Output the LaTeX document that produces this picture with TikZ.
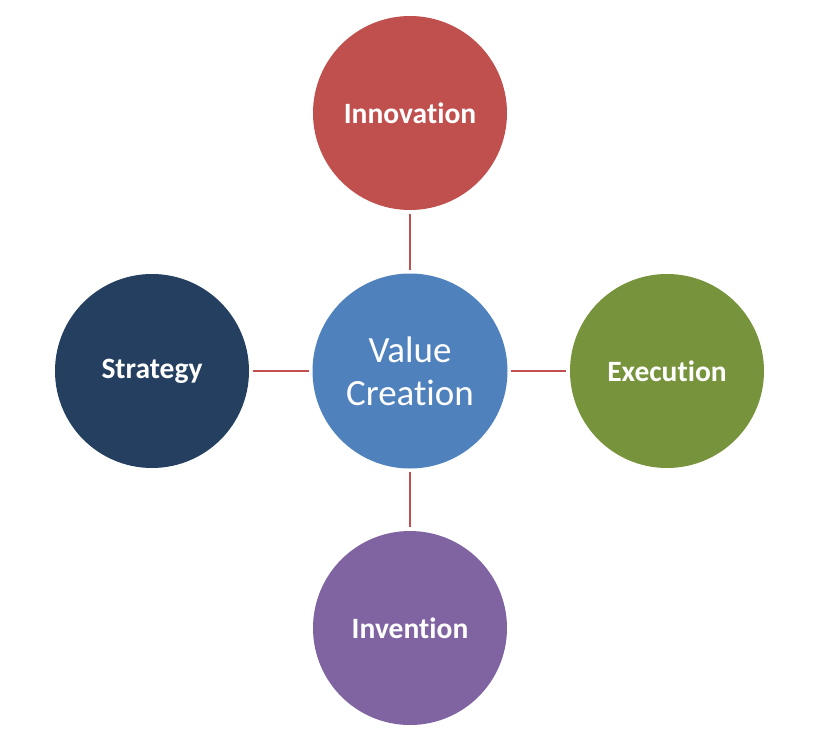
\documentclass[tikz,border=0pt]{standalone}
\usepackage{fontspec}
\setmainfont{Carlito}[RawFeature={-liga;-clig;-calt;-dlig}]
\definecolor{cred}{HTML}{C0504D}
\definecolor{cblue}{HTML}{4F81BD}
\definecolor{cgreen}{HTML}{77933C}
\definecolor{cnavy}{HTML}{243F60}
\definecolor{cpurple}{HTML}{8064A2}
\begin{document}
\begin{tikzpicture}[x=1pt,y=-1pt,
  bubble/.style={circle,minimum size=194pt,inner sep=0pt,text=white,font=\fontsize{29.5}{35}\selectfont\bfseries},
  hub/.style={circle,minimum size=195pt,inner sep=0pt,fill=cblue,text=white,align=center,font=\fontsize{37}{43}\selectfont},
  link/.style={draw=cred,line width=2.8pt,shorten <=3.5pt,shorten >=3.5pt}]
\useasboundingbox (0,0) rectangle (828,748);
\node[hub] (c) at (410,371) {Value\\Creation};
\node[bubble,fill=cred] (t) at (410,113) {Innovation};
\node[bubble,fill=cnavy] (l) at (152,371) {Strategy};
\node[bubble,fill=cgreen] (r) at (667,371) {Execution};
\node[bubble,fill=cpurple] (b) at (410,628) {Invention};
\draw[link] (t) -- (c);
\draw[link] (l) -- (c);
\draw[link] (c) -- (r);
\draw[link] (c) -- (b);
\end{tikzpicture}
\end{document}
